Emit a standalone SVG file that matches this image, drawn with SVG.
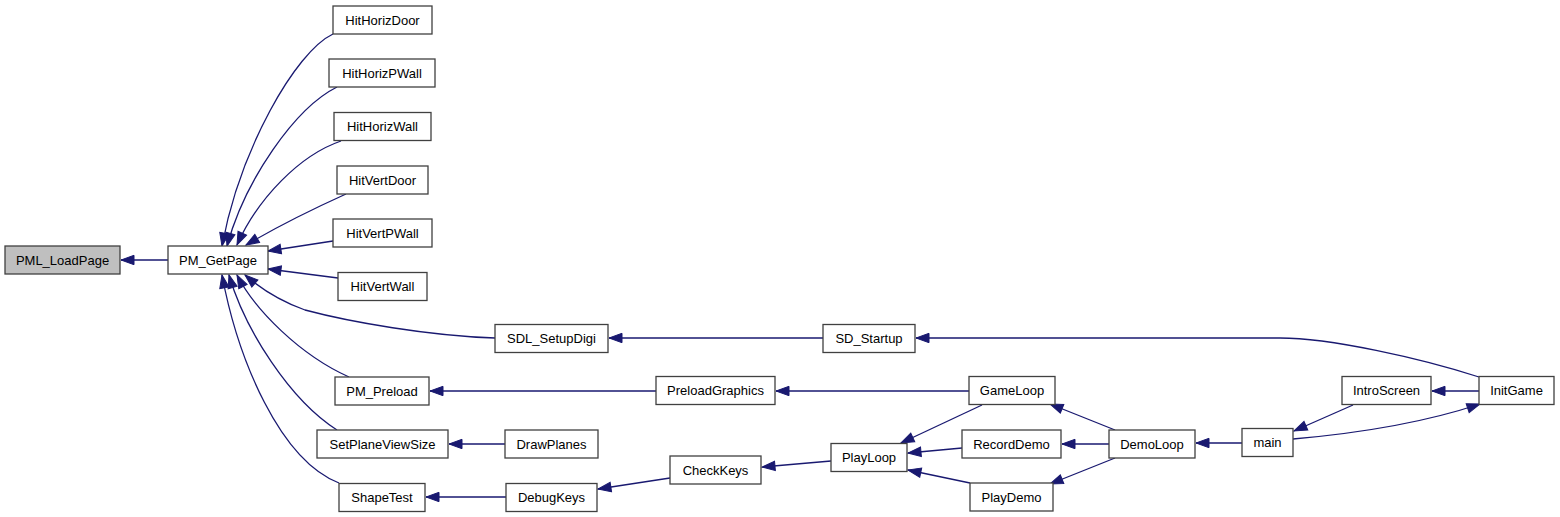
<svg xmlns="http://www.w3.org/2000/svg" width="1560" height="517" viewBox="0 0 1560 517">
<style>
.n rect{fill:#ffffff;stroke:#404040;stroke-width:1.3}
.n.g rect{fill:#bfbfbf}
.n text{font-family:"Liberation Sans",Helvetica,Arial,sans-serif;font-size:13px;text-anchor:middle;fill:#000}
#edges path{fill:none;stroke:#191970;stroke-width:1.3;marker-end:url(#arr)}
</style>
<defs>
<marker id="arr" markerUnits="userSpaceOnUse" markerWidth="14" markerHeight="10" refX="13" refY="4.7" orient="auto" overflow="visible">
<path d="M0,0 L13,4.7 L0,9.4 z" fill="#191970" stroke="#191970" stroke-width="1"/>
</marker>
</defs>
<rect x="0" y="0" width="1560" height="517" fill="#ffffff"/>
<g id="edges">
<path d="M168,260 L121,260"/>
<path d="M333,34 C295,52 240,150 222,246"/>
<path d="M337,87 C295,108 245,180 227,246"/>
<path d="M341,141 C300,155 258,198 237,245"/>
<path d="M346,194 C315,208 275,228 246,245"/>
<path d="M333,241 L268,251"/>
<path d="M338,278 L268,269"/>
<path d="M495,338 C430,336 350,322 305,310 C280,301 260,288 245,275"/>
<path d="M349,377 C300,355 255,310 237,275"/>
<path d="M337,430 C290,400 245,330 229,275"/>
<path d="M339,483 C280,460 238,360 222,275"/>
<path d="M823,338 L609,338"/>
<path d="M1479,377 C1420,358 1330,338 1280,338 L916,338"/>
<path d="M656,391 L430,391"/>
<path d="M969,391 L776,391"/>
<path d="M505,444 L449,444"/>
<path d="M506,497 L426,497"/>
<path d="M670,478 L598,489"/>
<path d="M831,461 L762,467"/>
<path d="M982,405 L901,443"/>
<path d="M962,448 L908,453"/>
<path d="M970,483 L908,470"/>
<path d="M1115,430 L1050,404"/>
<path d="M1109,444 L1062,444"/>
<path d="M1115,458 L1050,484"/>
<path d="M1242,443 L1196,443"/>
<path d="M1353,405 L1294,431"/>
<path d="M1293,439 C1350,434 1420,424 1480,404"/>
<path d="M1479,391 L1432,391"/>
</g>
<g id="PML_LoadPage" class="n g"><rect x="5" y="246" width="115" height="28"/><text x="62.5" y="264.5">PML_LoadPage</text></g>
<g id="PM_GetPage" class="n"><rect x="168" y="246" width="100" height="28"/><text x="218" y="264.5">PM_GetPage</text></g>
<g id="HitHorizDoor" class="n"><rect x="333" y="6" width="99" height="28"/><text x="382.5" y="24.5">HitHorizDoor</text></g>
<g id="HitHorizPWall" class="n"><rect x="329" y="59" width="106" height="28"/><text x="382" y="77.5">HitHorizPWall</text></g>
<g id="HitHorizWall" class="n"><rect x="334" y="112.5" width="97" height="28"/><text x="382.5" y="131">HitHorizWall</text></g>
<g id="HitVertDoor" class="n"><rect x="337" y="166" width="91" height="28"/><text x="382.5" y="184.5">HitVertDoor</text></g>
<g id="HitVertPWall" class="n"><rect x="333" y="219" width="99" height="28"/><text x="382.5" y="237.5">HitVertPWall</text></g>
<g id="HitVertWall" class="n"><rect x="338" y="272.5" width="89" height="28"/><text x="382.5" y="291">HitVertWall</text></g>
<g id="SDL_SetupDigi" class="n"><rect x="495" y="324.5" width="113" height="28"/><text x="551.5" y="343">SDL_SetupDigi</text></g>
<g id="SD_Startup" class="n"><rect x="823" y="324.5" width="92" height="28"/><text x="869" y="343">SD_Startup</text></g>
<g id="InitGame" class="n"><rect x="1479" y="376.5" width="75" height="28"/><text x="1516.5" y="395">InitGame</text></g>
<g id="PM_Preload" class="n"><rect x="335" y="377" width="94" height="28"/><text x="382" y="395.5">PM_Preload</text></g>
<g id="PreloadGraphics" class="n"><rect x="656" y="376.5" width="119" height="28"/><text x="715.5" y="395">PreloadGraphics</text></g>
<g id="GameLoop" class="n"><rect x="969" y="376.5" width="86" height="28"/><text x="1012" y="395">GameLoop</text></g>
<g id="IntroScreen" class="n"><rect x="1342" y="376.5" width="89" height="28"/><text x="1386.5" y="395">IntroScreen</text></g>
<g id="SetPlaneViewSize" class="n"><rect x="317" y="430" width="131" height="28"/><text x="382.5" y="448.5">SetPlaneViewSize</text></g>
<g id="DrawPlanes" class="n"><rect x="505" y="430" width="93" height="28"/><text x="551.5" y="448.5">DrawPlanes</text></g>
<g id="RecordDemo" class="n"><rect x="962" y="430" width="99" height="28"/><text x="1011.5" y="448.5">RecordDemo</text></g>
<g id="DemoLoop" class="n"><rect x="1109" y="430" width="86" height="28"/><text x="1152" y="448.5">DemoLoop</text></g>
<g id="main" class="n"><rect x="1242" y="428.5" width="51" height="28"/><text x="1267.5" y="447">main</text></g>
<g id="PlayLoop" class="n"><rect x="831" y="443.5" width="76" height="28"/><text x="869" y="462">PlayLoop</text></g>
<g id="CheckKeys" class="n"><rect x="670" y="456" width="91" height="28"/><text x="715.5" y="474.5">CheckKeys</text></g>
<g id="ShapeTest" class="n"><rect x="339" y="483.5" width="86" height="28"/><text x="382" y="502">ShapeTest</text></g>
<g id="DebugKeys" class="n"><rect x="506" y="483.5" width="91" height="28"/><text x="551.5" y="502">DebugKeys</text></g>
<g id="PlayDemo" class="n"><rect x="970" y="483" width="83" height="28"/><text x="1011.5" y="501.5">PlayDemo</text></g>
</svg>
